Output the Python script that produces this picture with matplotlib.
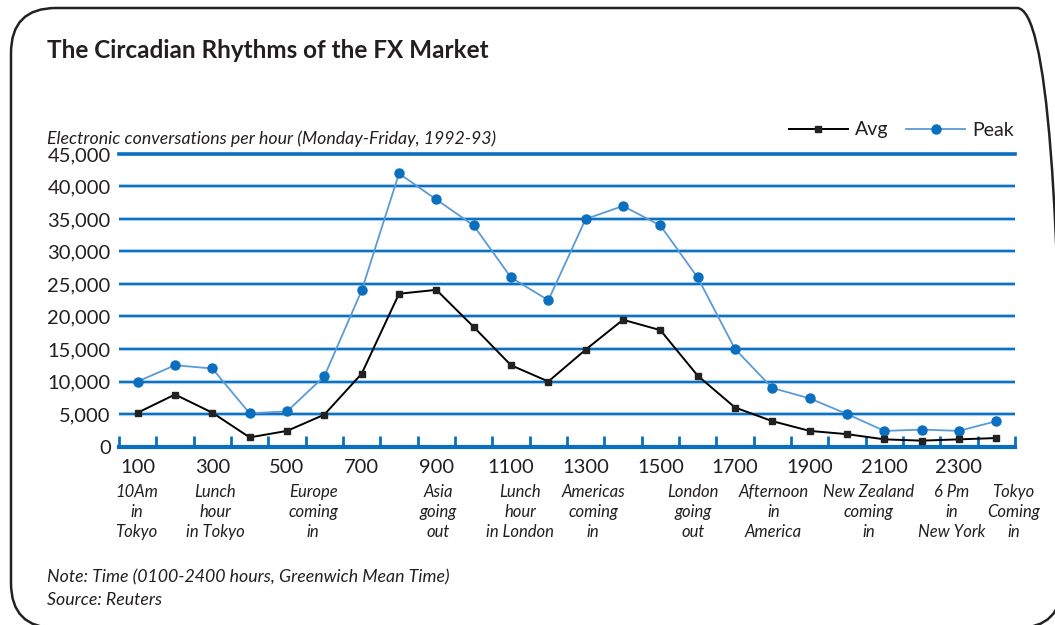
import matplotlib.pyplot as plt
import numpy as np
from matplotlib.patches import FancyBboxPatch
from matplotlib.transforms import IdentityTransform
from matplotlib.lines import Line2D

plt.rcParams['font.family'] = ['Lato', 'DejaVu Sans']

hours = [100, 200, 300, 400, 500, 600, 700, 800, 900, 1000, 1100, 1200,
         1300, 1400, 1500, 1600, 1700, 1800, 1900, 2000, 2100, 2200, 2300, 2400]
avg = [5200, 8000, 5200, 1400, 2400, 4900, 11200, 23500, 24100, 18400, 12500, 10000,
       14900, 19500, 17900, 10900, 6000, 3900, 2400, 1900, 1100, 900, 1100, 1300]
peak = [10000, 12500, 12000, 5100, 5400, 10800, 24000, 42000, 38000, 34000, 26000, 22500,
        35000, 37000, 34000, 26000, 15000, 9000, 7400, 5000, 2400, 2600, 2400, 3900]

events = ["10Am\nin\nTokyo", "Lunch\nhour\nin Tokyo", "Europe\ncoming\nin",
          "Asia\ngoing\nout", "Lunch\nhour\nin London", "Americas\ncoming\nin",
          "London\ngoing\nout", "Afternoon\nin\nAmerica", "New Zealand\ncoming\nin",
          "6 Pm\nin\nNew York", "Tokyo\nComing\nin"]
# where each note sits along the hour axis (category units)
event_x = [0.47, 2.57, 5.2, 8.55, 10.74, 12.7, 15.38, 17.53, 20.07, 22.3, 23.96]

blue = '#0a6fbf'
light = '#5b9bd5'
ink = '#231f20'

fig = plt.figure(figsize=(10.55, 6.25), dpi=100)
ax = fig.add_axes([119/1055, 1-446.5/625, (1015-119)/1055, (446.5-154)/625])

x = np.arange(len(hours)) + 0.5
ax.plot(x, peak, color=light, lw=1.3, marker='o', ms=6.5, mfc=blue, mec=blue, zorder=3)
ax.plot(x, avg, color='black', lw=1.4, marker='s', ms=5, mfc='#222222', mec='#222222', zorder=4)

ax.set_xlim(0, len(hours))
ax.set_ylim(0, 45000)
yt = np.arange(0, 45001, 5000)
ax.set_yticks(yt)
ax.set_yticklabels(['0'] + [f'{v:,}' for v in yt[1:]])
for v in yt[1:-1]:
    ax.axhline(v, color='#a9cdea', lw=3.0, zorder=1)
    ax.axhline(v, color=blue, lw=1.4, zorder=1)

ax.set_xticks(x[::2])
ax.set_xticklabels([str(h) for h in hours[::2]])
ax.set_xticks(np.arange(len(hours) + 1), minor=True)
ax.tick_params(axis='x', which='major', length=0, pad=9, labelsize=14.5, labelcolor=ink)
ax.tick_params(axis='x', which='minor', direction='in', length=8, width=2, color=blue)
ax.tick_params(axis='y', length=0, pad=6, labelsize=14.5, labelcolor=ink)

for s in ['left', 'right']:
    ax.spines[s].set_visible(False)
ax.spines['bottom'].set_color(blue)
ax.spines['bottom'].set_linewidth(3)
ax.spines['top'].set_color(blue)
ax.spines['top'].set_linewidth(2.6)

for ex, txt in zip(event_x, events):
    ax.text(ex, -10100, txt, ha='center', va='center', fontsize=12, style='italic',
            color=ink, linespacing=1.3)

fig.text(47/1055, 1-50/625, 'The Circadian Rhythms of the FX Market', fontsize=17.5,
         fontweight='bold', color=ink, va='center')
fig.text(47/1055, 1-139/625, 'Electronic conversations per hour (Monday-Friday, 1992-93)',
         fontsize=12.8, style='italic', color=ink, va='center')
fig.text(47/1055, 1-577/625, 'Note: Time (0100-2400 hours, Greenwich Mean Time)',
         fontsize=12.8, style='italic', color=ink, va='center')
fig.text(47/1055, 1-600/625, 'Source: Reuters',
         fontsize=12.8, style='italic', color=ink, va='center')

handles = [Line2D([], [], color='black', lw=1.4, marker='s', ms=5, mfc='#222222', mec='#222222'),
           Line2D([], [], color=light, lw=1.3, marker='o', ms=6.5, mfc=blue, mec=blue)]
fig.legend(handles, ['Avg', 'Peak'], loc='center right', bbox_to_anchor=(1022/1055, 1-130/625),
           frameon=False, ncol=2, fontsize=14, handlelength=3.0, columnspacing=0.9,
           handletextpad=0.4, labelcolor=ink, borderaxespad=0)

border = FancyBboxPatch((11, -3), 1051, 620, boxstyle='round,pad=0,rounding_size=45',
                        transform=IdentityTransform(), fill=False, ec='#222222', lw=1.8)
fig.add_artist(border)

fig.savefig('out.png', dpi=100)
